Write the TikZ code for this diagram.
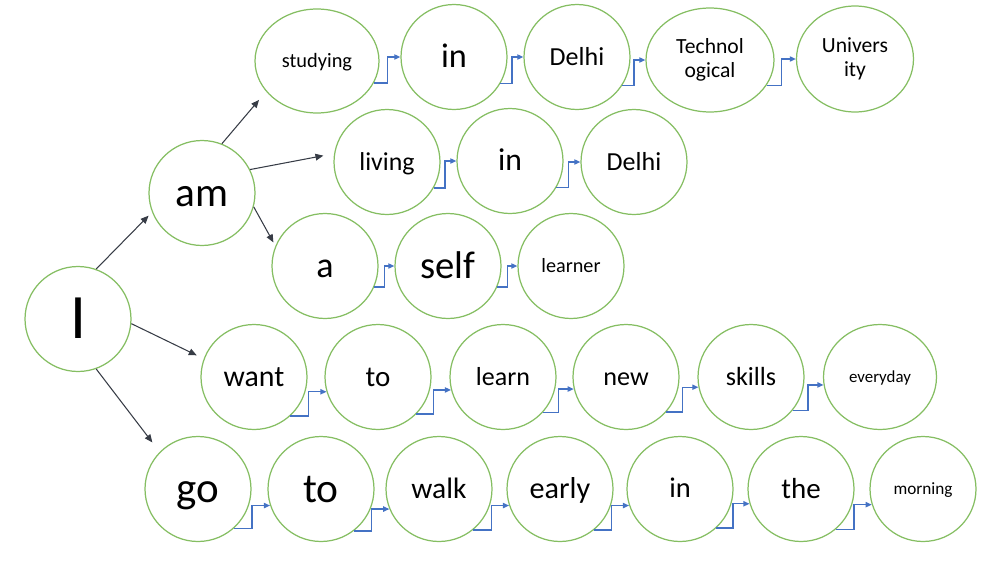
\documentclass[tikz,border=0pt]{standalone}
\usepackage{fontspec}
\setmainfont{Carlito}
\usetikzlibrary{shapes.geometric, arrows.meta, calc}

\definecolor{ringgreen}{RGB}{133,190,98}
\definecolor{linkblue}{RGB}{68,114,196}
\definecolor{branchgray}{RGB}{55,60,70}

\tikzset{
  word/.style={ellipse, draw=ringgreen, line width=0.7pt, fill=white, inner sep=0pt,
    minimum width=2.12cm, minimum height=2.1cm},
  fs/.style={font=\fontsize{#1}{#1}\selectfont, execute at begin node={\rule[-0.25em]{0pt}{1.13em}}},
  branch/.style={draw=branchgray, line width=0.6pt, -{Triangle[length=4.5pt,width=3.8pt]}},
  link/.style={draw=linkblue, line width=0.75pt, -{Triangle[length=3.5pt,width=3pt]},
    to path={-| ($(\tikztostart)!.5!(\tikztotarget)$) |- (\tikztotarget)}},
}

\begin{document}
\begin{tikzpicture}[x=0.02cm, y=-0.02cm]

    \useasboundingbox (0,0) rectangle (1004,565);

    %% Root and first branch
    \node[word, fs=36] (I) at (78,319) {I};
    \node[word, fs=23.5] (am) at (202,193) {am};

    %% am studying in Delhi Technological University
    \node[word, fs=11.6, minimum width=2.48cm, minimum height=2.08cm] (studying) at (317,61) {studying};
    \node[word, fs=19.5] (in1) at (454,57) {in};
    \node[word, fs=14.8] (delhi1) at (577,57) {Delhi};
    \node[word, align=center, font=\fontsize{12.3}{13.8}\selectfont,
          minimum width=2.56cm, minimum height=2.08cm] (technological) at (710,60) {Technol\\ogical};
    \node[word, align=center, font=\fontsize{12.3}{13.8}\selectfont,
          minimum width=2.34cm, minimum height=2.12cm] (university) at (855,59) {Univers\\ity};

    %% am living in Delhi
    \node[word, fs=14.7] (living) at (387,162) {living};
    \node[word, fs=18] (in2) at (510,161) {in};
    \node[word, fs=14.8] (delhi2) at (634,162) {Delhi};

    %% am a self learner
    \node[word, fs=20.5] (a) at (325,266) {a};
    \node[word, fs=22] (self) at (448,266) {self};
    \node[word, fs=11.5] (learner) at (571,266) {learner};

    %% want to learn new skills everyday
    \node[word, fs=17] (want) at (254,377) {want};
    \node[word, fs=16.5] (to1) at (378,377) {to};
    \node[word, fs=14.8] (learn) at (503,377) {learn};
    \node[word, fs=14.9] (new) at (626,377) {new};
    \node[word, fs=14.9] (skills) at (751,377) {skills};
    \node[word, fs=9.6, minimum width=2.26cm] (everyday) at (880,377) {everyday};

    %% go to walk early in the morning
    \node[word, fs=24.5] (go) at (198,489) {go};
    \node[word, fs=23.6] (to2) at (321,489) {to};
    \node[word, fs=16.8] (walk) at (439,489) {walk};
    \node[word, fs=17.2] (early) at (560,489) {early};
    \node[word, fs=16.2] (in3) at (680,489) {in};
    \node[word, fs=16.5] (the) at (801,489) {the};
    \node[word, fs=9.8] (morning) at (923,489) {morning};

    %% Branches
    \draw[branch, shorten >=2.8pt] (I.70) -- (am.201);
    \draw[branch, shorten >=4.4pt] (I.355) -- (want.160);
    \draw[branch, shorten >=6.8pt] (I.290) -- (go.136);
    \draw[branch, shorten >=6.2pt] (am.68) -- (studying.211);
    \draw[branch, shorten >=6.2pt] (am.26) -- (living.171);
    \draw[branch, shorten >=2.3pt] (am.345) -- (a.158);

    %% Word links
    % top row
    \draw[link] (studying.-21) to (in1.180);
    \draw[link] (in1.-30) to (delhi1.180);
    \draw[link] (delhi1.-32) to (technological.180);
    \draw[link] (technological.-24) to (university.180);
    % second row
    \draw[link] (living.-29) to (in2.180);
    \draw[link] (in2.-30) to (delhi2.180);
    % third row
    \draw[link] (a.-23) to (self.180);
    \draw[link] (self.-23) to (learner.180);
    % fourth row
    \draw[link] (want.-47) to (to1.196);
    \draw[link] (to1.-44) to (learn.194);
    \draw[link] (learn.-42) to (new.193);
    \draw[link] (new.-41) to (skills.191);
    \draw[link] (skills.-39) to (everyday.188);
    % bottom row
    \draw[link] (go.-48) to (to2.198);
    \draw[link] (to2.-52) to (walk.202);
    \draw[link] (walk.-50) to (early.198);
    \draw[link] (early.-50) to (in3.198);
    \draw[link] (in3.-47) to (the.196);
    \draw[link] (the.-49) to (morning.197);

\end{tikzpicture}
\end{document}
